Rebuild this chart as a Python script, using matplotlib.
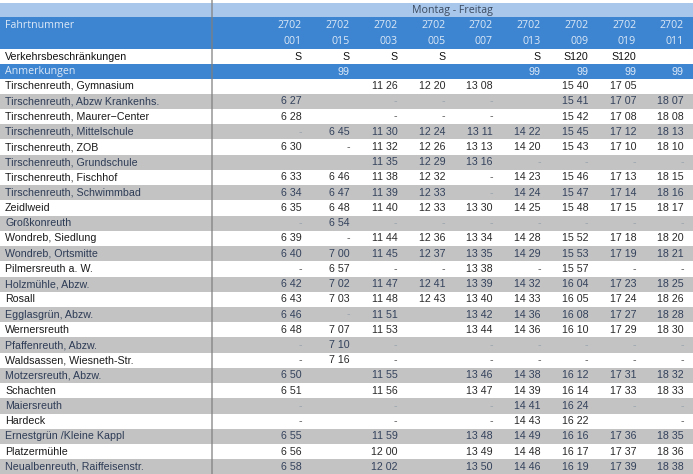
import numpy as np
import matplotlib
matplotlib.use('Agg')
import matplotlib.pyplot as plt
from matplotlib.patches import Rectangle

# Timetable data
day_label = 'Montag - Freitag'
trip_line = ['2702'] * 9
trip_ids = ['001', '015', '003', '005', '007', '013', '009', '019', '011']
restrictions = ['S', 'S', 'S', 'S', '', 'S', 'S120', 'S120', '']
notes = ['', '99', '', '', '', '99', '99', '99', '99']

stops = [
    'Tirschenreuth, Gymnasium',
    'Tirschenreuth, Abzw Krankenhs.',
    'Tirschenreuth, Maurer\u2212Center',
    'Tirschenreuth, Mittelschule',
    'Tirschenreuth, ZOB',
    'Tirschenreuth, Grundschule',
    'Tirschenreuth, Fischhof',
    'Tirschenreuth, Schwimmbad',
    'Zeidlweid',
    'Großkonreuth',
    'Wondreb, Siedlung',
    'Wondreb, Ortsmitte',
    'Pilmersreuth a. W.',
    'Holzmühle, Abzw.',
    'Rosall',
    'Egglasgrün, Abzw.',
    'Wernersreuth',
    'Pfaffenreuth, Abzw.',
    'Waldsassen, Wiesneth-Str.',
    'Motzersreuth, Abzw.',
    'Schachten',
    'Maiersreuth',
    'Hardeck',
    'Ernestgrün /Kleine Kappl',
    'Platzermühle',
    'Neualbenreuth, Raiffeisenstr.',
]

times = [
    ['', '', '11 26', '12 20', '13 08', '', '15 40', '17 05', ''],
    ['6 27', '', '-', '-', '-', '', '15 41', '17 07', '18 07'],
    ['6 28', '', '-', '-', '-', '', '15 42', '17 08', '18 08'],
    ['-', '6 45', '11 30', '12 24', '13 11', '14 22', '15 45', '17 12', '18 13'],
    ['6 30', '-', '11 32', '12 26', '13 13', '14 20', '15 43', '17 10', '18 10'],
    ['', '', '11 35', '12 29', '13 16', '-', '-', '-', '-'],
    ['6 33', '6 46', '11 38', '12 32', '-', '14 23', '15 46', '17 13', '18 15'],
    ['6 34', '6 47', '11 39', '12 33', '-', '14 24', '15 47', '17 14', '18 16'],
    ['6 35', '6 48', '11 40', '12 33', '13 30', '14 25', '15 48', '17 15', '18 17'],
    ['-', '6 54', '-', '-', '-', '-', '-', '-', '-'],
    ['6 39', '-', '11 44', '12 36', '13 34', '14 28', '15 52', '17 18', '18 20'],
    ['6 40', '7 00', '11 45', '12 37', '13 35', '14 29', '15 53', '17 19', '18 21'],
    ['-', '6 57', '-', '-', '13 38', '-', '15 57', '-', '-'],
    ['6 42', '7 02', '11 47', '12 41', '13 39', '14 32', '16 04', '17 23', '18 25'],
    ['6 43', '7 03', '11 48', '12 43', '13 40', '14 33', '16 05', '17 24', '18 26'],
    ['6 46', '-', '11 51', '', '13 42', '14 36', '16 08', '17 27', '18 28'],
    ['6 48', '7 07', '11 53', '', '13 44', '14 36', '16 10', '17 29', '18 30'],
    ['-', '7 10', '-', '', '-', '-', '-', '-', '-'],
    ['-', '7 16', '-', '', '-', '-', '-', '-', '-'],
    ['6 50', '', '11 55', '', '13 46', '14 38', '16 12', '17 31', '18 32'],
    ['6 51', '', '11 56', '', '13 47', '14 39', '16 14', '17 33', '18 33'],
    ['-', '', '-', '', '-', '14 41', '16 24', '-', '-'],
    ['-', '', '-', '', '-', '14 43', '16 22', '', '-'],
    ['6 55', '', '11 59', '', '13 48', '14 49', '16 16', '17 36', '18 35'],
    ['6 56', '', '12 00', '', '13 49', '14 48', '16 17', '17 37', '18 36'],
    ['6 58', '', '12 02', '', '13 50', '14 46', '16 19', '17 39', '18 38'],
]

# colours
light_blue = '#a9c7ea'
dark_blue = '#3d85d1'
grey_row = '#c3c3c3'
head_txt = '#dce8f6'

W, H = 693, 474
fig = plt.figure(figsize=(W / 100, H / 100), dpi=100)
ax = fig.add_axes([0, 0, 1, 1])
ax.set_xlim(0, W)
ax.set_ylim(H, 0)
ax.axis('off')

def band(y0, y1, color):
    ax.add_patch(Rectangle((0, y0), W, y1 - y0, color=color, lw=0, zorder=0))

sep_x = 212
col_right = np.linspace(302, 684, len(trip_ids))
fs = 7.7
body_font = ['Liberation Sans', 'DejaVu Sans']
head_font = ['Open Sans', 'DejaVu Sans']

# header bands
band(2.5, 17, light_blue)
band(17, 48.5, dark_blue)
band(63.5, 78.5, dark_blue)
ax.text((sep_x + W) / 2, 10, day_label, ha='center', va='center', fontsize=fs,
        color='#3b4a60', family=head_font)
ax.text(5, 25, 'Fahrtnummer', ha='left', va='center', fontsize=fs,
        color=head_txt, family=head_font)
for x, a, b in zip(col_right, trip_line, trip_ids):
    ax.text(x, 25, a, ha='right', va='center', fontsize=fs, color=head_txt, family=head_font)
    ax.text(x, 41, b, ha='right', va='center', fontsize=fs, color=head_txt, family=head_font)

ax.text(5, 56.5, 'Verkehrsbeschränkungen', ha='left', va='center', fontsize=fs,
        color='#111111', family=body_font)
for x, s in zip(col_right, restrictions):
    ax.text(x, 56.5, s, ha='right', va='center', fontsize=fs, color='#111111', family=body_font)

ax.text(5, 71.5, 'Anmerkungen', ha='left', va='center', fontsize=fs,
        color=head_txt, family=head_font)
for x, s in zip(col_right, notes):
    ax.text(x, 71.5, s, ha='right', va='center', fontsize=fs, color=head_txt, family=body_font)

# station rows
row_top = 78.5
row_h = (H + 0.5 - row_top) / len(stops)
for i, (stop, row) in enumerate(zip(stops, times)):
    y0 = row_top + i * row_h
    yc = y0 + row_h / 2
    shaded = i % 2 == 1
    if shaded:
        band(y0, y0 + row_h, grey_row)
    name_col = '#2e3c56' if shaded else '#1a1a1a'
    ax.text(5, yc, stop, ha='left', va='center', fontsize=fs, color=name_col, family=body_font)
    for x, t in zip(col_right, row):
        if t == '-':
            c = '#9aa2ac' if shaded else '#555555'
        else:
            c = '#34425c' if shaded else '#2a2a2a'
        ax.text(x, yc, t, ha='right', va='center', fontsize=fs, color=c, family=body_font)

ax.plot([sep_x, sep_x], [0, H], color='#808080', lw=1.3, alpha=0.7, zorder=1)

fig.savefig('out.png', dpi=100)
